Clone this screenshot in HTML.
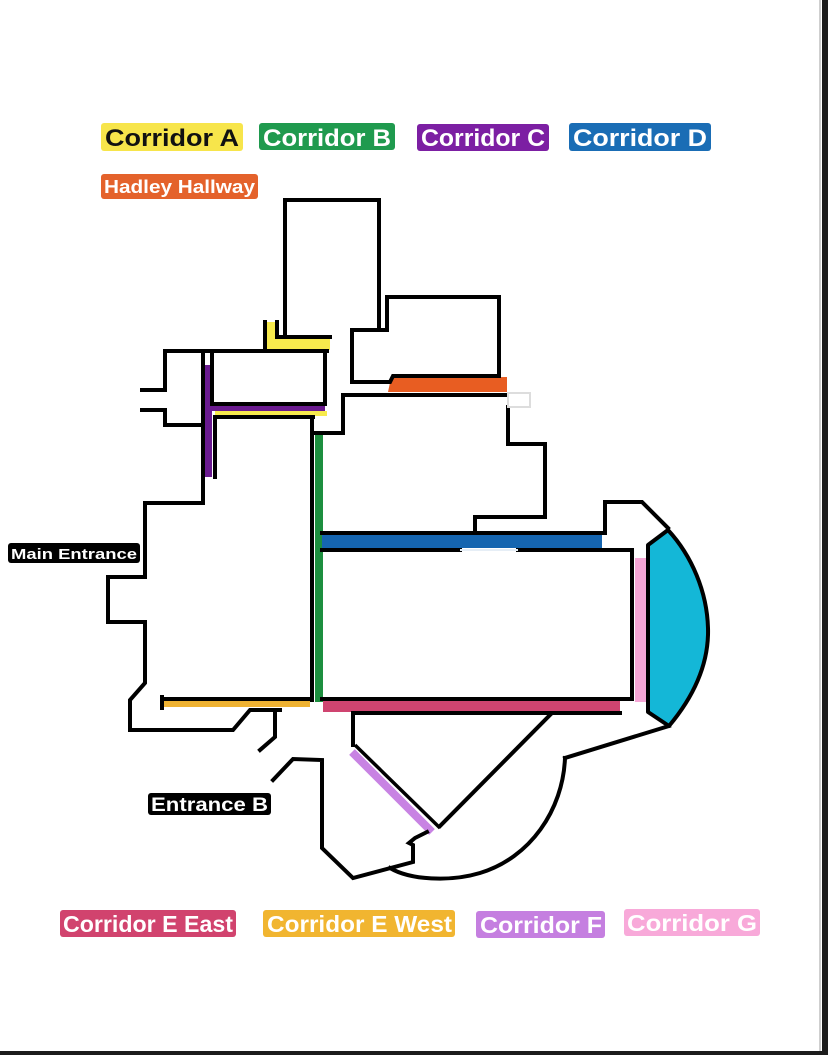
<!DOCTYPE html>
<html><head><meta charset="utf-8"><style>
html,body{margin:0;padding:0;background:#fff;}
svg{display:block;}
text{font-family:"Liberation Sans",Arial,sans-serif;font-weight:bold;}
</style></head><body>
<svg width="828" height="1055" viewBox="0 0 828 1055" xmlns="http://www.w3.org/2000/svg">
<rect x="0" y="0" width="828" height="1055" fill="#fff"/>
<!-- page border -->
<rect x="819" y="0" width="2" height="1055" fill="#cfcfcf"/>
<rect x="822" y="0" width="6" height="1055" fill="#1c1c1c"/>
<rect x="0" y="1051" width="828" height="4" fill="#1c1c1c"/>

<!-- legend top -->
<rect x="101" y="123" width="142" height="28" rx="3" fill="#f7e54b"/>
<text x="105" y="146" font-size="24" fill="#111" textLength="134" lengthAdjust="spacingAndGlyphs">Corridor A</text>
<rect x="259" y="123" width="136" height="27" rx="3" fill="#1f9a4e"/>
<text x="263" y="146" font-size="24" fill="#fff" textLength="128" lengthAdjust="spacingAndGlyphs">Corridor B</text>
<rect x="417" y="124" width="132" height="27" rx="3" fill="#7c1fa3"/>
<text x="421" y="146" font-size="24" fill="#fff" textLength="124" lengthAdjust="spacingAndGlyphs">Corridor C</text>
<rect x="569" y="123" width="142" height="28" rx="3" fill="#1a6db5"/>
<text x="573" y="146" font-size="24" fill="#fff" textLength="134" lengthAdjust="spacingAndGlyphs">Corridor D</text>
<rect x="101" y="174" width="157" height="25" rx="3" fill="#e4622b"/>
<text x="104" y="193" font-size="18" fill="#fff" textLength="151" lengthAdjust="spacingAndGlyphs">Hadley Hallway</text>

<!-- legend bottom -->
<rect x="60" y="910" width="176" height="27" rx="3" fill="#d1436e"/>
<text x="63" y="932" font-size="23" fill="#fff" textLength="170" lengthAdjust="spacingAndGlyphs">Corridor E East</text>
<rect x="263" y="910" width="192" height="27" rx="3" fill="#f1b530"/>
<text x="267" y="932" font-size="23" fill="#fff" textLength="185" lengthAdjust="spacingAndGlyphs">Corridor E West</text>
<rect x="476" y="911" width="129" height="27" rx="3" fill="#c57fe0"/>
<text x="480" y="933" font-size="23" fill="#fff" textLength="122" lengthAdjust="spacingAndGlyphs">Corridor F</text>
<rect x="624" y="909" width="136" height="27" rx="3" fill="#f8a9d9"/>
<text x="627" y="931" font-size="23" fill="#fff" textLength="130" lengthAdjust="spacingAndGlyphs">Corridor G</text>

<!-- colored corridor fills -->
<polygon points="267,322 276,322 276,338 330,338 330,350 267,350" fill="#f7ea4d"/>
<polygon points="391,378 507,377 507,392 388,392" fill="#e85d22"/>
<rect x="203" y="365" width="9" height="112" fill="#6a1a8f"/>
<rect x="207" y="405" width="118" height="6" fill="#6a1a8f"/>
<rect x="215" y="411" width="112" height="5" fill="#f7ea4d"/>
<rect x="315" y="433" width="8" height="269" fill="#1d8f3f"/>
<rect x="322" y="535" width="280" height="13" fill="#1565b0"/>
<rect x="323" y="701" width="297" height="11" fill="#cf4470"/>
<rect x="162" y="701" width="148" height="6" fill="#efb232"/>
<rect x="635" y="558" width="12" height="144" fill="#f6a6d6"/>
<path d="M668,530 L648,545 L648,712 L669,726 C695,695 709,662 708,628 C707,592 692,556 668,530 Z" fill="#14b7d7" stroke="#000" stroke-width="4" stroke-linejoin="round"/>
<line x1="352" y1="752" x2="432" y2="832" stroke="#c883e3" stroke-width="8"/>

<!-- walls -->
<g fill="none" stroke="#000" stroke-width="4" stroke-linejoin="miter" stroke-linecap="square">
<!-- tower -->
<polyline points="285,337 285,200 379,200 379,330"/>
<polyline points="265,322 265,350"/>
<polyline points="277,322 277,337 330,337"/>
<!-- right building -->
<polyline points="352,382 352,330 387,330 387,297 499,297 499,376 393,376 390,382 352,382"/>
<!-- building below orange -->
<polyline points="316,433 343,433 343,395 522,395"/>
<polyline points="508,407 508,444 545,444 545,517 475,517 475,533"/>
<!-- corridor D lines -->
<line x1="322" y1="533" x2="603" y2="533"/>
<line x1="322" y1="550" x2="460" y2="550"/>
<polyline points="518,550 632,550 632,699 322,699"/>
<!-- green left wall -->
<line x1="312" y1="417" x2="312" y2="700"/>
<!-- E east bottom -->
<line x1="353" y1="713" x2="620" y2="713"/>
<line x1="353" y1="713" x2="353" y2="745"/>
<!-- bump -->
<polyline points="605,533 605,502 642,502 668,528"/>
<!-- lower right -->
<line x1="669" y1="726" x2="565" y2="758"/>
<path d="M565,758 C563,810 530,858 480,873 C450,882 410,880 390,868"/>
<line x1="550" y1="715" x2="440" y2="826"/>
<polyline points="427,832 415,838 409,843 413,845 413,862 353,878 322,848 322,760 293,759 273,780"/>
<!-- main building -->
<polyline points="203,351 203,503 145,503 145,577 108,577 108,622 145,622 145,683 130,700 130,730 233,730 250,710 280,710"/>
<polyline points="275,710 275,737 260,750"/>
<line x1="162" y1="699" x2="312" y2="699"/>
<line x1="162" y1="697" x2="162" y2="708"/>
<!-- top box -->
<polyline points="165,351 327,351"/>
<polyline points="325,351 325,404 212,404 212,351"/>
<polyline points="142,390 165,390 165,351"/>
<polyline points="142,410 165,410 165,425 203,425"/>
<polyline points="215,477 215,417 313,417"/>
</g>
<line x1="355" y1="745" x2="440" y2="828" stroke="#000" stroke-width="3.5"/>
<rect x="508" y="393" width="22" height="14" fill="#fff" stroke="#ddd" stroke-width="2"/>
<line x1="460" y1="550" x2="518" y2="550" stroke="#e6eef6" stroke-width="2"/>

<!-- entrance labels -->
<rect x="8" y="543" width="132" height="20" rx="3" fill="#000"/>
<text x="11" y="559" font-size="15" fill="#fff" textLength="126" lengthAdjust="spacingAndGlyphs">Main Entrance</text>
<rect x="148" y="793" width="123" height="22" rx="3" fill="#000"/>
<text x="151" y="811" font-size="19" fill="#fff" textLength="117" lengthAdjust="spacingAndGlyphs">Entrance B</text>
</svg>
</body></html>
